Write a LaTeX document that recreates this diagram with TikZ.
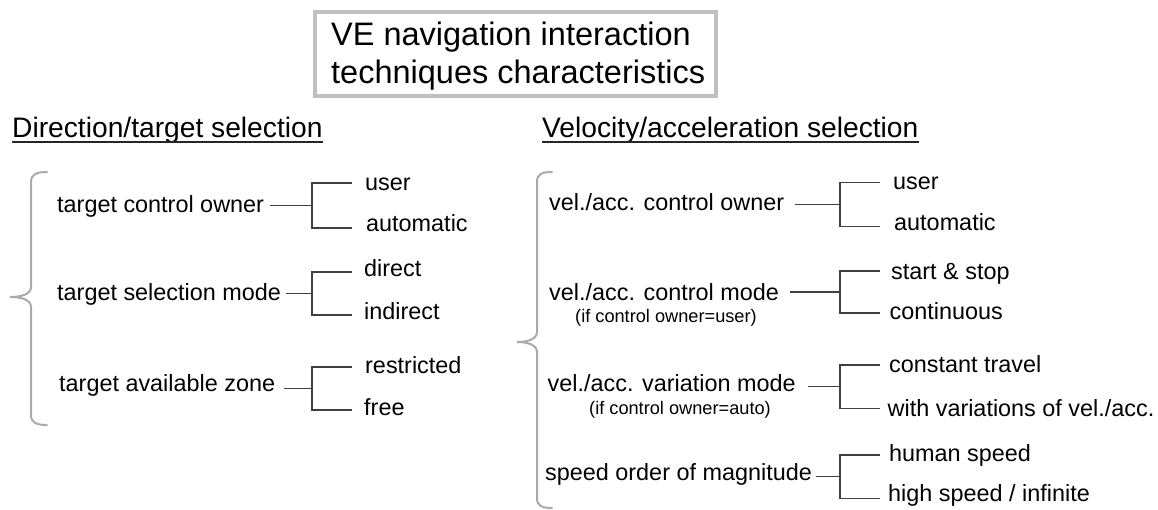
\documentclass[tikz,border=0pt]{standalone}
\usepackage{fontspec}
\usetikzlibrary{calc}
\setmainfont{Liberation Sans}
\definecolor{bracegray}{RGB}{170,170,170}
\definecolor{boxgray}{RGB}{192,192,192}
\definecolor{conngray}{RGB}{64,64,64}
\begin{document}
\begin{tikzpicture}[x=1pt,y=-1pt,
  item/.style={anchor=base west,inner sep=0pt,font=\fontsize{23.4}{28}\selectfont},
  sub/.style={anchor=base west,inner sep=0pt,font=\fontsize{18.2}{21}\selectfont},
  head/.style={anchor=base west,inner sep=0pt,font=\fontsize{28.2}{33}\selectfont},
  ttl/.style={anchor=base west,inner sep=0pt,font=\fontsize{32.5}{38}\selectfont},
  conn/.style={draw=conngray,line width=1.4pt},
  brace/.style={draw=bracegray,line width=2pt,line cap=round},
  uline/.style={draw=black!85,line width=1.8pt}]
\useasboundingbox (0,0) rectangle (1158,510);
\fill[white] (0,0) rectangle (1158,510);

% title
\node[draw=boxgray,line width=4pt,minimum width=401pt,minimum height=84pt,inner sep=0pt] (tbox) at (515.5,54) {};
\node[ttl] (t1) at (331,46) {VE navigation interaction};
\node[ttl] (t2) at (331,84) {techniques characteristics};

% headers
\node[head] (h1) at (12,137.5) {Direction/target selection};
\node[head] (h2) at (542,137.5) {Velocity/acceleration selection};
\draw[uline] ($(h1.base west)+(0,4.5)$) -- ($(h1.base east)+(0,4.5)$);
\draw[uline] ($(h2.base west)+(0,4.5)$) -- ($(h2.base east)+(0,4.5)$);

% left brace
\draw[brace] (47,172) .. controls (37,172) and (31,174) .. (31,182) -- (31,287)
  .. controls (31,294) and (22,297) .. (10,297)
  .. controls (22,297) and (31,300) .. (31,307) -- (31,415)
  .. controls (31,423) and (37,425) .. (47,425);

% right brace
\draw[brace] (552,172) .. controls (542,172) and (537,174) .. (537,182) -- (537,332)
  .. controls (537,339) and (528,342) .. (517,342)
  .. controls (528,342) and (537,345) .. (537,352) -- (537,498)
  .. controls (537,506) and (542,508) .. (552,508);

% left groups
\node[item] (l1) at (57,212.5) {target control owner};
\node[item] (l2) at (57,300.5) {target selection mode};
\node[item] (l3) at (59,391) {target available zone};
\coordinate (b1) at (312,205.5);
\coordinate (b2) at (312,293.5);
\coordinate (b3) at (312,388.5);
\draw[conn] (l1.east |- b1) ++(6,0) -- (b1);
\draw[conn] (l2.east |- b2) ++(5,0) -- (b2);
\draw[conn] (l3.east |- b3) ++(9,0) -- (b3);
\draw[conn] (b1) ++(40,-22.5) -- ++(-40,0) -- ++(0,45) -- ++(40,0);
\draw[conn] (b2) ++(40,-21.5) -- ++(-40,0) -- ++(0,43) -- ++(40,0);
\draw[conn] (b3) ++(40,-21.5) -- ++(-40,0) -- ++(0,43) -- ++(40,0);
\node[item] (u1) at (365,190.5) {user};
\node[item] (a1) at (366,231.5) {automatic};
\node[item] (d1) at (364,276.5) {direct};
\node[item] (i1) at (364,319.5) {indirect};
\node[item] (r1) at (365,373.5) {restricted};
\node[item] (f1) at (364,415) {free};

% right groups
\node[item] (r1l) at (549,210.5) {vel./acc. control owner};
\node[item] (r2l) at (549,300.5) {vel./acc. control mode};
\node[sub]  (r2s) at (575,323) {(if control owner=user)};
\node[item] (r3l) at (547.5,391.5) {vel./acc. variation mode};
\node[sub]  (r3s) at (589,414) {(if control owner=auto)};
\node[item] (r4l) at (545,480.5) {speed order of magnitude};
\coordinate (c1) at (840,204.7);
\coordinate (c2) at (840,292);
\coordinate (c3) at (840,386.7);
\coordinate (c4) at (840,476.7);
\draw[conn] (r1l.east |- c1) ++(11,0) -- (c1);
\draw[conn] (r2l.east |- c2) ++(11,0) -- (c2);
\draw[conn] (r3l.east |- c3) ++(12,0) -- (c3);
\draw[conn] (r4l.east |- c4) ++(4,0) -- (c4);
\draw[conn] (c1) ++(40,-22) -- ++(-40,0) -- ++(0,44) -- ++(40,0);
\draw[conn] (c2) ++(40,-21) -- ++(-40,0) -- ++(0,42) -- ++(40,0);
\draw[conn] (c3) ++(40,-21.7) -- ++(-40,0) -- ++(0,43.4) -- ++(40,0);
\draw[conn] (c4) ++(40,-21.7) -- ++(-40,0) -- ++(0,43.4) -- ++(40,0);
\node[item] (ru1) at (893,190) {user};
\node[item] (ra1) at (894,230.5) {automatic};
\node[item] (rs1) at (891,280) {start \& stop};
\node[item] (rc1) at (889.5,319.5) {continuous};
\node[item] (rt1) at (889,372.7) {constant travel};
\node[item] (rv1) at (887.5,416) {with variations of vel./acc.};
\node[item] (rh1) at (889,461.7) {human speed};
\node[item] (rh2) at (888,501.5) {high speed / infinite};
\end{tikzpicture}
\end{document}
